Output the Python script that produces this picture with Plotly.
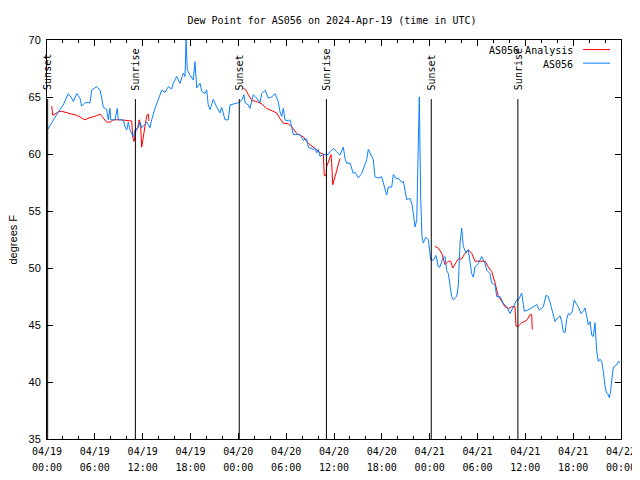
import pandas as pd
import plotly.graph_objects as go

START = "2024-04-19 00:00"

# AS056 observations: hours since START, dew point (F)
obs_hours = [0.04, 0.79, 1.42, 2.04, 2.67, 3.1, 3.3, 3.73, 4.14, 4.35, 4.77, 5.39, 5.61, 6.23, 6.65, 6.86,
             7.06, 7.49, 7.69, 7.9, 7.99, 8.53, 8.82, 8.94, 9.57, 9.78, 10.0, 10.2, 10.41, 10.83, 11.04,
             11.45, 11.67, 11.88, 12.51, 12.92, 13.13, 13.55, 13.96, 14.39, 14.8, 15.22, 15.64, 15.84,
             16.27, 16.68, 17.1, 17.31, 17.44, 17.6, 17.94, 18.35, 18.56, 18.78, 19.19, 19.41, 19.82,
             20.03, 20.23, 20.45, 20.86, 21.29, 21.7, 21.91, 22.33, 22.74, 22.96, 24.0,
             24.42, 24.71, 24.84, 25.25, 25.46, 25.68, 25.88, 26.3, 26.72, 26.93, 27.35, 27.76, 28.19,
             28.6, 29.01, 29.23, 29.44, 29.64, 29.85, 30.27, 30.48, 30.69, 30.9, 31.74, 32.15, 32.36,
             32.58, 32.78, 33.2, 33.4, 33.62, 33.83, 34.03, 34.24, 34.66, 35.29, 35.5, 35.91, 36.34,
             36.75, 37.17, 37.38, 37.59, 38.01, 38.42, 38.63, 39.05, 39.48, 40.1, 40.3, 40.73, 40.93,
             41.14, 41.56, 41.98, 42.19, 42.61, 42.81, 43.24, 43.44, 43.87, 44.07, 44.49, 44.7, 44.91,
             45.12, 45.53, 45.75, 45.95, 46.16, 46.38, 46.58, 46.7, 46.88, 47.04, 47.2, 47.5, 47.83,
             48.13, 48.46, 48.8, 49.08, 49.3, 49.63, 49.92, 50.13, 50.34, 50.76, 50.96, 51.39, 51.59,
             51.81, 52.02, 52.22, 52.56, 52.85, 53.06, 53.27, 53.48, 53.69, 54.1, 54.53, 54.94, 55.16,
             55.57, 55.78, 56.2, 56.41, 56.82, 57.24, 57.66, 58.08, 58.49, 58.92, 59.21, 59.55, 59.75,
             59.88, 60.59, 61.43, 61.75, 62.26, 62.59, 62.88, 63.1, 63.51, 63.72, 64.01, 64.35, 64.56,
             64.76, 64.97, 65.19, 65.39, 65.6, 65.89, 66.14, 66.44, 66.65, 66.98, 67.27, 67.49, 67.7,
             67.91, 68.12, 68.33, 68.53, 68.74, 68.95, 69.16, 69.37, 69.58, 69.79, 70.0, 70.21, 70.42,
             70.54, 70.72, 70.84, 71.04, 71.46, 71.66, 71.88]
obs_values = [62.1, 63.0, 63.7, 64.3, 65.3, 64.9, 64.6, 65.3, 64.9, 64.2, 64.5, 64.5, 65.6, 65.9, 65.6, 64.9,
              64.1, 63.9, 63.0, 64.0, 63.0, 63.0, 64.0, 63.0, 63.0, 62.4, 62.1, 62.8, 62.1, 61.5, 62.1,
              62.3, 62.8, 62.3, 62.8, 62.3, 63.0, 64.0, 64.7, 65.6, 65.4, 65.9, 65.7, 66.2,
              66.8, 66.2, 67.1, 66.8, 70.0, 67.4, 66.9, 66.5, 68.1, 65.8, 66.2, 65.5, 65.3,
              65.6, 64.3, 63.9, 64.8, 64.1, 63.6, 64.1, 63.0, 63.0, 64.3, 64.5,
              64.7, 65.2, 64.5, 64.3, 64.0, 64.7, 65.2, 64.9, 64.5, 65.3, 65.6, 64.9, 65.0,
              65.3, 64.6, 63.7, 63.3, 64.0, 63.0, 62.9, 63.0, 62.4, 61.7, 61.7, 61.2, 61.3,
              61.3, 60.6, 60.5, 60.4, 60.5, 60.1, 60.4, 59.8, 59.95, 59.95, 60.2, 60.5, 60.2,
              59.9, 60.6, 59.6, 59.2, 59.2, 58.3, 58.4, 57.9, 58.3, 59.5, 60.4, 59.8, 59.5,
              58.0, 57.9, 58.0, 57.4, 56.4, 57.1, 57.1, 58.2, 57.8, 57.9, 57.5, 57.6, 56.8,
              56.0, 56.1, 55.7, 54.8, 53.6, 54.2, 62.3, 65.0, 56.0, 52.7, 52.2, 52.7, 52.5,
              50.7, 50.7, 51.1, 50.1, 50.1, 50.85, 51.0, 49.8, 49.5, 47.5, 47.2, 47.5, 48.4,
              52.2, 53.5, 51.9, 51.3, 51.6, 50.7, 49.5, 49.2, 50.1, 50.4, 51.0, 50.4, 49.8,
              49.5, 48.7, 48.5, 47.5, 47.5, 46.9, 46.6, 46.0, 46.6, 47.2, 47.3, 47.8, 46.8,
              46.2, 46.4, 46.8, 46.3, 46.6, 47.6, 47.5, 47.0, 46.0, 45.3, 45.6, 45.8, 45.3,
              44.4, 44.3, 45.5, 46.0, 45.9, 46.2, 47.2, 46.8, 46.6, 46.0, 46.2, 46.5, 45.7,
              45.0, 45.3, 44.1, 44.0, 45.2, 42.7, 41.8, 42.0, 41.8, 40.9, 39.6, 39.0, 38.9,
              38.6, 39.3, 40.2, 41.3, 41.5, 41.8, 41.7]

# AS056 Analysis: hours since START, dew point (F); None marks gaps
ana_hours = [0.59, 0.72, 1.0, 1.42, 1.84, 2.47, 3.1, 3.73, 4.35, 4.77, 5.39, 6.02, 6.65, 7.06, 7.49, 7.9,
             8.32, 9.16, 9.78, 10.2, 10.62, 10.75, 10.91, 11.16, 11.38, 11.58, 11.75, 11.88, 12.08,
             12.29, 12.51, 12.71, 12.79, 18.0,
             24.62, 24.96, 25.25, 25.68, 26.3, 26.93, 27.56, 28.19, 28.81, 29.23, 29.64, 30.27, 30.69,
             31.32, 31.74, 32.15, 32.58, 32.99, 33.62, 34.24, 34.66, 34.78, 35.0, 35.08, 35.29, 35.5,
             35.63, 35.71, 35.84, 36.13, 36.54, 36.75, 42.0,
             48.67, 49.08, 49.51, 49.71, 49.92, 50.34, 50.64, 50.89, 51.18, 51.59, 52.02, 52.43, 52.85,
             53.27, 53.69, 54.32, 54.94, 55.36, 55.78, 56.2, 56.61, 57.03, 57.45, 57.87, 58.29, 58.7,
             58.83, 59.12, 59.55, 60.17, 60.59, 60.8, 60.87]
ana_values = [64.2, 63.4, 63.5, 63.7, 63.75, 63.6, 63.5, 63.4, 63.2, 63.0, 63.2, 63.3, 63.5, 63.2, 62.8, 62.8,
              63.0, 63.0, 62.95, 62.9, 62.9, 61.5, 61.1, 62.1, 62.3, 63.0, 62.4, 60.6, 61.5,
              62.5, 63.4, 63.5, 62.9, None,
              65.8, 65.6, 65.2, 64.7, 64.6, 64.4, 64.0, 63.8, 63.6, 63.1, 62.7, 62.65, 62.4,
              61.8, 61.65, 61.5, 61.1, 60.8, 60.5, 60.1, 60.0, 58.1, 58.1, 58.9, 59.3, 59.8,
              59.95, 59.2, 57.3, 58.0, 59.2, 59.6, None,
              51.9, 51.75, 51.3, 50.7, 50.3, 50.6, 50.6, 50.0, 50.3, 50.8, 50.8, 51.3, 51.6,
              51.3, 50.6, 50.6, 50.6, 50.1, 49.7, 48.7, 47.5, 47.1, 46.6, 46.45, 46.6, 46.6,
              44.9, 44.9, 45.2, 45.4, 45.9, 45.9, 44.6]

# Sun events
sun_labels = ["Sunset", "Sunrise", "Sunset", "Sunrise", "Sunset", "Sunrise"]
sun_times = ["2024-04-19 00:05", "2024-04-19 11:05", "2024-04-20 00:07",
             "2024-04-20 11:03", "2024-04-21 00:12", "2024-04-21 11:04"]

tick_times = pd.date_range("2024-04-19 00:00", "2024-04-22 00:00", freq="6h")
tick_dates = [t.strftime("%m/%d") for t in tick_times]
tick_hours = [t.strftime("%H:%M") for t in tick_times]

t0 = pd.Timestamp(START)
obs_x = [t0 + pd.Timedelta(hours=h) for h in obs_hours]
ana_x = [t0 + pd.Timedelta(hours=h) for h in ana_hours]

MONO = "DejaVu Sans Mono"
SANS = "Liberation Sans"
RED = "#ff0000"
BLUE = "#0a80ff"
XRANGE = ["2024-04-19 00:00", "2024-04-22 00:00"]

fig = go.Figure()
fig.add_trace(go.Scatter(x=ana_x, y=ana_values, mode="lines", name="AS056 Analysis",
                         line=dict(color=RED, width=1), connectgaps=False, showlegend=False))
fig.add_trace(go.Scatter(x=obs_x, y=obs_values, mode="lines", name="AS056",
                         line=dict(color=BLUE, width=1), showlegend=False))
# invisible copy on the second x axis, which carries the second row of time labels
fig.add_trace(go.Scatter(x=obs_x, y=obs_values, mode="none", xaxis="x2", yaxis="y",
                         showlegend=False, hoverinfo="skip"))

for lab, t in zip(sun_labels, sun_times):
    fig.add_shape(type="line", xref="x", yref="paper", x0=t, x1=t, y0=0, y1=0.852,
                  line=dict(color="black", width=1))
    fig.add_annotation(x=t, xref="x", y=0.869, yref="paper", text=lab, textangle=-90,
                       showarrow=False, xanchor="center", yanchor="bottom",
                       font=dict(family=MONO, size=10, color="black"))

# legend (gnuplot style: text then line sample)
leg = [("AS056 Analysis", RED, 0.973), ("AS056", BLUE, 0.939)]
for name, col, yy in leg:
    fig.add_annotation(x=0.92, xref="paper", y=yy, yref="paper", text=name, showarrow=False,
                       xanchor="right", yanchor="middle", font=dict(family=MONO, size=10, color="black"))
    fig.add_shape(type="line", xref="paper", yref="paper", x0=0.934, x1=0.981, y0=yy + 0.003,
                  y1=yy + 0.003, line=dict(color=col, width=1))

# y-axis title
fig.add_annotation(x=-35 / 574, xref="paper", y=0.5, yref="paper", text="degrees F", textangle=-90,
                   showarrow=False, xanchor="center", yanchor="middle",
                   font=dict(family=SANS, size=11, color="black"))

# The page body has an 8px margin; size the figure so the plot lands where the reference has it.
fig.update_layout(
    width=632, height=472,
    margin=dict(l=39, r=19, t=32, b=41, autoexpand=False),
    paper_bgcolor="white", plot_bgcolor="white",
    title=dict(text="Dew Point for AS056 on 2024-Apr-19 (time in UTC)", x=324 / 632, xanchor="center",
               y=1 - 12 / 472, yanchor="middle", font=dict(family=MONO, size=10, color="black")),
    xaxis=dict(type="date", range=XRANGE, automargin=False,
               tickmode="array", tickvals=tick_times, ticktext=tick_dates, ticklabelstandoff=3,
               ticks="inside", ticklen=6, tickcolor="black", tickwidth=1,
               minor=dict(tick0="2024-04-19 00:00", dtick=2 * 3600 * 1000, ticks="inside",
                          ticklen=3, tickcolor="black", showgrid=False),
               showline=True, linecolor="black", linewidth=1, mirror="ticks",
               showgrid=False, zeroline=False,
               tickfont=dict(family=MONO, size=10, color="black")),
    xaxis2=dict(type="date", range=XRANGE, overlaying="x", side="bottom", anchor="y",
                automargin=False, tickmode="array", tickvals=tick_times, ticktext=tick_hours,
                ticklabelstandoff=21, ticks="", showline=False, showgrid=False, zeroline=False,
                tickfont=dict(family=MONO, size=10, color="black")),
    yaxis=dict(range=[35, 70], tickmode="linear", tick0=35, dtick=5, automargin=False,
               ticks="inside", ticklen=6, tickcolor="black", tickwidth=1, ticklabelstandoff=3,
               showline=True, linecolor="black", linewidth=1, mirror="ticks",
               showgrid=False, zeroline=False,
               tickfont=dict(family=SANS, size=11, color="black")),
)

fig.write_html("out.html")
